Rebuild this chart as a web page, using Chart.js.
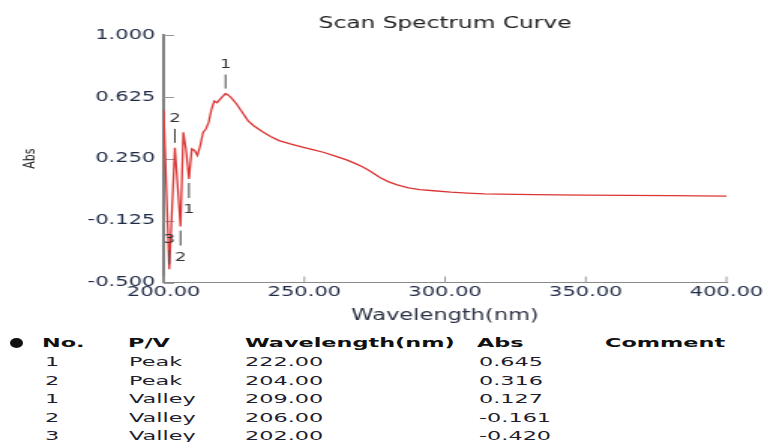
<!DOCTYPE html>
<html>
<head>
<meta charset="utf-8">
<script src="https://cdn.jsdelivr.net/npm/chart.js@4.4.1/dist/chart.umd.min.js"></script>
<style>
  body { margin: 0; background: #fff; width: 767px; height: 442px; overflow: hidden; position: relative; font-family: 'DejaVu Sans', sans-serif; }
  #myChart { position: absolute; left: 0; top: 0; }
  .cell { position: absolute; font-size: 13px; line-height: 16px; color: #1e1e2e; white-space: nowrap; transform: scaleX(1.72); transform-origin: 0 50%; }
  .head { font-weight: bold; color: #111; }
  .dot { position: absolute; left: 10px; top: 338px; width: 13px; height: 10px; border-radius: 50%; background: #111; }
</style>
</head>
<body>
<!-- the original screenshot is stretched sideways, so the canvas is drawn narrow and widened by css -->
<canvas id="myChart" width="511" height="330" style="width:767px;height:330px"></canvas>
<div class="dot"></div>
<div id="table"></div>
<script>
//spectrum data
const wavelengths = [200, 201, 202, 203, 204, 205, 206, 207, 208, 209, 210, 211, 212, 213, 214, 215, 216, 217, 218, 219, 220, 221, 222, 223, 224, 226, 228, 230, 232, 235, 238, 241, 245, 249, 253, 257, 261, 265, 268, 271, 274, 277, 280, 283, 287, 291, 296, 302, 308, 314, 325, 340, 350, 365, 380, 400];
const absorbance = [0.545, 0.06, -0.42, -0.05, 0.316, 0.08, -0.161, 0.41, 0.30, 0.127, 0.31, 0.30, 0.27, 0.33, 0.41, 0.43, 0.47, 0.55, 0.60, 0.59, 0.61, 0.628, 0.645, 0.635, 0.62, 0.58, 0.53, 0.48, 0.45, 0.415, 0.385, 0.36, 0.34, 0.322, 0.305, 0.288, 0.266, 0.243, 0.222, 0.198, 0.168, 0.135, 0.11, 0.092, 0.074, 0.063, 0.056, 0.048, 0.042, 0.037, 0.034, 0.031, 0.03, 0.028, 0.026, 0.024];

//peaks and valleys
const peakWl = [222, 204];
const peakAbs = [0.645, 0.316];
const valleyWl = [209, 206, 202];
const valleyAbs = [0.127, -0.161, -0.420];

//axis ticks
const xTicks = [200, 250, 300, 350, 400];
const yTicks = [1.000, 0.625, 0.250, -0.125, -0.500];

Chart.defaults.font.family = "'DejaVu Sans', sans-serif";

//short tick marks pointing into the plot
const innerTicks = {
    id: 'innerTicks',
    beforeDatasetsDraw(chart) {
        const {ctx, chartArea, scales} = chart;
        ctx.save();
        ctx.strokeStyle = '#9a9a9a';
        ctx.lineWidth = 1;
        ctx.beginPath();
        yTicks.forEach((v) => {
            const py = Math.round(scales.y.getPixelForValue(v)) + 0.5;
            ctx.moveTo(chartArea.left, py);
            ctx.lineTo(chartArea.left + 7, py);
        });
        xTicks.forEach((v) => {
            const px = scales.x.getPixelForValue(v);
            ctx.moveTo(px, chartArea.bottom);
            ctx.lineTo(px, chartArea.bottom - 6);
        });
        ctx.stroke();
        ctx.restore();
    }
};

//numbered peak / valley markers
const pvMarkers = {
    id: 'pvMarkers',
    afterDatasetsDraw(chart) {
        const {ctx, chartArea, scales} = chart;
        ctx.save();
        ctx.font = '12px "DejaVu Sans"';
        ctx.textAlign = 'center';
        ctx.textBaseline = 'middle';
        ctx.strokeStyle = '#444';
        ctx.fillStyle = '#333';
        ctx.lineWidth = 1;

        function mark(px, py, up, label) {
            ctx.beginPath();
            if (up) {
                ctx.moveTo(px, py - 5);
                ctx.lineTo(px, py - 19);
                ctx.stroke();
                ctx.fillText(label, px, py - 29);
            } else {
                ctx.moveTo(px, py + 4);
                ctx.lineTo(px, py + 19);
                ctx.stroke();
                ctx.fillText(label, px, py + 31);
            }
        }

        peakWl.forEach((w, i) => {
            mark(scales.x.getPixelForValue(w), scales.y.getPixelForValue(peakAbs[i]), true, String(i + 1));
        });
        valleyWl.forEach((w, i) => {
            const px = scales.x.getPixelForValue(w);
            const py = scales.y.getPixelForValue(valleyAbs[i]);
            //no room under the lowest valley, so its label goes on top
            const up = py + 37 > chartArea.bottom;
            mark(px, py, up, String(i + 1));
        });
        ctx.restore();
    }
};

const ctx = document.getElementById('myChart').getContext('2d');
const myChart = new Chart(ctx, {
    type: 'line',
    data: {
        datasets: [{
            label: 'Abs',
            data: wavelengths.map((w, i) => ({x: w, y: absorbance[i]})),
            borderColor: '#dc3434',
            borderWidth: 1.3,
            pointRadius: 0,
            tension: 0,
            fill: false
        }]
    },
    options: {
        responsive: false,
        devicePixelRatio: 1,
        animation: false,
        layout: {
            padding: {left: 0, right: 27, top: 0, bottom: 0}
        },
        plugins: {
            legend: {display: false},
            tooltip: {enabled: false},
            title: {
                display: true,
                text: 'Scan Spectrum Curve',
                fullSize: false,
                color: '#222',
                font: {size: 15.5, weight: 'normal'},
                padding: {top: 15, bottom: 1.4}
            }
        },
        scales: {
            x: {
                type: 'linear',
                min: 200,
                max: 400,
                afterFit: (scale) => { scale.height = 47.5; },
                grid: {display: false, drawTicks: false},
                border: {display: true, color: '#8a8a8a', width: 1},
                ticks: {
                    stepSize: 50,
                    maxRotation: 0,
                    autoSkip: false,
                    padding: 1,
                    color: '#1f2a44',
                    font: {size: 14},
                    callback: (v) => v.toFixed(2)
                },
                title: {
                    display: true,
                    text: 'Wavelength(nm)',
                    color: '#2b3245',
                    font: {size: 15},
                    padding: {top: 0, bottom: 5}
                }
            },
            y: {
                min: -0.5,
                max: 1,
                afterFit: (scale) => { scale.width = 109; },
                grid: {display: false, drawTicks: false},
                border: {display: true, color: '#808080', width: 2},
                ticks: {
                    stepSize: 0.375,
                    padding: 5.5,
                    color: '#1f2a44',
                    font: {size: 14},
                    callback: (v) => v.toFixed(3)
                },
                title: {
                    display: true,
                    text: 'Abs',
                    color: '#222',
                    font: {size: 11},
                    padding: {top: 14, bottom: 0}
                }
            }
        }
    },
    plugins: [innerTicks, pvMarkers]
});

//peak / valley table under the chart
const pvNo = ['1', '2', '1', '2', '3'];
const pvType = ['Peak', 'Peak', 'Valley', 'Valley', 'Valley'];
const pvWl = [222.00, 204.00, 209.00, 206.00, 202.00];
const pvAbs = [0.645, 0.316, 0.127, -0.161, -0.420];

const table = document.getElementById('table');
function addCell(text, left, top, head) {
    const span = document.createElement('span');
    span.className = head ? 'cell head' : 'cell';
    span.textContent = text;
    span.style.left = left + 'px';
    span.style.top = (top - 8) + 'px';
    table.appendChild(span);
}

addCell('No.', 42, 343, true);
addCell('P/V', 128, 343, true);
addCell('Wavelength(nm)', 245, 343, true);
addCell('Abs', 477, 343, true);
addCell('Comment', 605, 343, true);

pvNo.forEach((n, i) => {
    const rowY = 362 + i * 18.5;
    addCell(n, 45, rowY);
    addCell(pvType[i], 129, rowY);
    addCell(pvWl[i].toFixed(2), 245, rowY);
    addCell(pvAbs[i].toFixed(3), 479, rowY);
});
</script>
</body>
</html>
